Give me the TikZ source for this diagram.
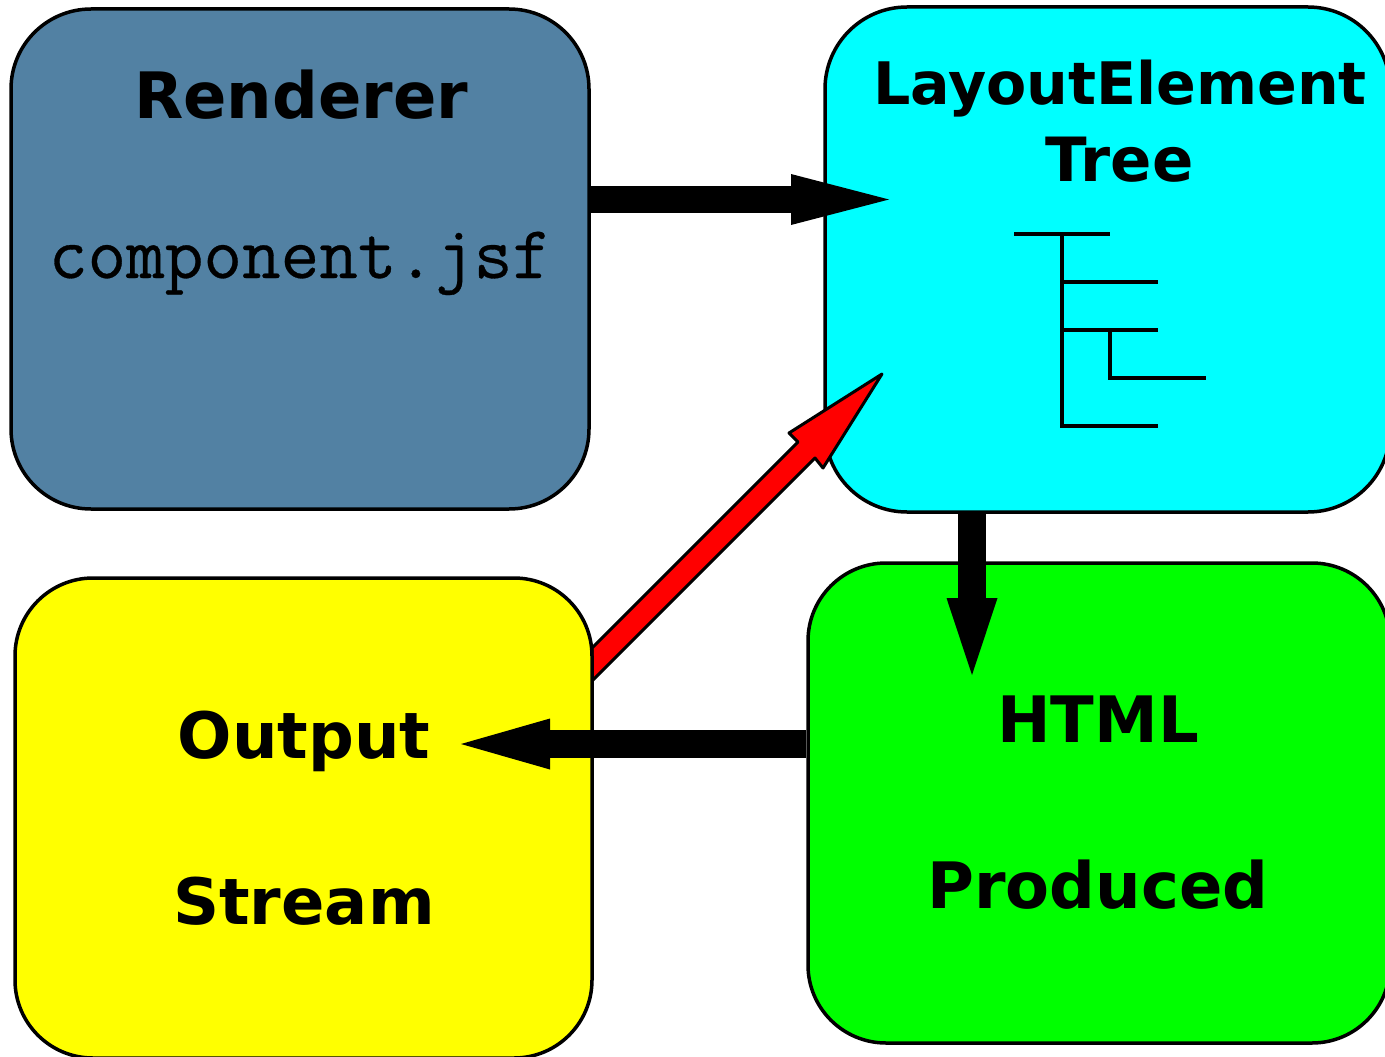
\documentclass[tikz,border=0pt]{standalone}
\usepackage{fontspec}
\setmainfont{DejaVu Sans}
\newfontfamily\codefont[FakeBold=0.4]{Latin Modern Mono}
\usetikzlibrary{arrows.meta}
\definecolor{steel}{RGB}{82,129,163}
\definecolor{boxcyan}{RGB}{0,255,255}
\definecolor{boxyellow}{RGB}{255,255,0}
\definecolor{boxgreen}{RGB}{0,255,0}
\definecolor{flowred}{RGB}{255,0,0}
\tikzset{
 x=1pt,y=-1pt,
 stage/.style={draw=black,line width=3.5pt,inner sep=0pt,minimum width=#1},
 lab/.style={anchor=base,inner sep=0pt,font=\bfseries\fontsize{64}{64}\selectfont},
 smalllab/.style={anchor=base,inner sep=0pt,font=\bfseries\fontsize{58.6}{58.6}\selectfont},
 treelab/.style={anchor=base,inner sep=0pt,font=\bfseries\fontsize{61}{61}\selectfont},
 codelab/.style={anchor=base,inner sep=0pt,font=\codefont\fontsize{75}{75}\selectfont},
 flow/.style={line width=27.5pt,draw=black,-{Triangle[length=#1,width=51pt,line width=0pt]}},
 treeline/.style={line width=3.5pt,draw=black},
 redflow/.style={draw=black,fill=flowred,line width=3pt,line join=round}
}
\begin{document}
\begin{tikzpicture}
\useasboundingbox (0,0) rectangle (1385,1057);
\clip (0,0) rectangle (1385,1057);
\fill[white] (0,0) rectangle (1385,1057);
\node[stage=578pt,minimum height=500pt,fill=steel,rounded corners=80pt] (rend) at (300,259) {};
\node[stage=565pt,minimum height=505pt,fill=boxcyan,rounded corners=82pt] (tree) at (1107.5,259.5) {};
\node[stage=582pt,minimum height=480pt,fill=boxgreen,rounded corners=78pt] (html) at (1099,803) {};
% red connector runs behind the yellow box
\coordinate (rs1) at (592,648);
\coordinate (rs2) at (592,681);
\coordinate (n1) at (798,442);
\coordinate (h1) at (789,433);
\coordinate (tipr) at (882,374);
\coordinate (h2) at (823,468);
\coordinate (n2) at (815,458);
\draw[redflow] (rs1) -- (n1) -- (h1) -- (tipr) -- (h2) -- (n2) -- (rs2) -- cycle;
\node[stage=577pt,minimum height=480pt,fill=boxyellow,rounded corners=78pt] (out) at (303.5,818) {};
% text
\node[lab] (t1) at (301,118) {Renderer};
\node[codelab] (t2) at (300,278) {component.jsf};
\node[smalllab] (t3) at (1120,104) {LayoutElement};
\node[treelab] (t4) at (1119.5,181) {Tree};
\node[lab] (t5) at (1098,742) {HTML};
\node[lab] (t6) at (1098,908) {Produced};
\node[lab] (t7) at (304,758) {Output};
\node[lab] (t8) at (304,924) {Stream};
% tree glyph
\coordinate (a) at (1014,234);
\coordinate (b) at (1110,234);
\coordinate (c) at (1062,234);
\coordinate (d) at (1062,426);
\coordinate (e) at (1158,426);
\coordinate (f) at (1062,282);
\coordinate (g) at (1158,282);
\coordinate (h) at (1062,330);
\coordinate (i) at (1158,330);
\coordinate (j) at (1110,330);
\coordinate (k) at (1110,378);
\coordinate (l) at (1206,378);
\draw[treeline] (a) -- (b);
\draw[treeline] (c) -- (d) -- (e);
\draw[treeline] (f) -- (g);
\draw[treeline] (h) -- (i);
\draw[treeline] (j) -- (k) -- (l);
% black connectors
\coordinate (e1) at (889,199.5);
\coordinate (e2) at (972,675);
\coordinate (e3) at (461,744);
\draw[flow=98pt] (rend.east |- e1) -- (e1);
\draw[flow=77pt] (e2 |- tree.south) -- (e2);
\draw[flow=89pt] (html.west |- e3) -- (e3);
\end{tikzpicture}
\end{document}
